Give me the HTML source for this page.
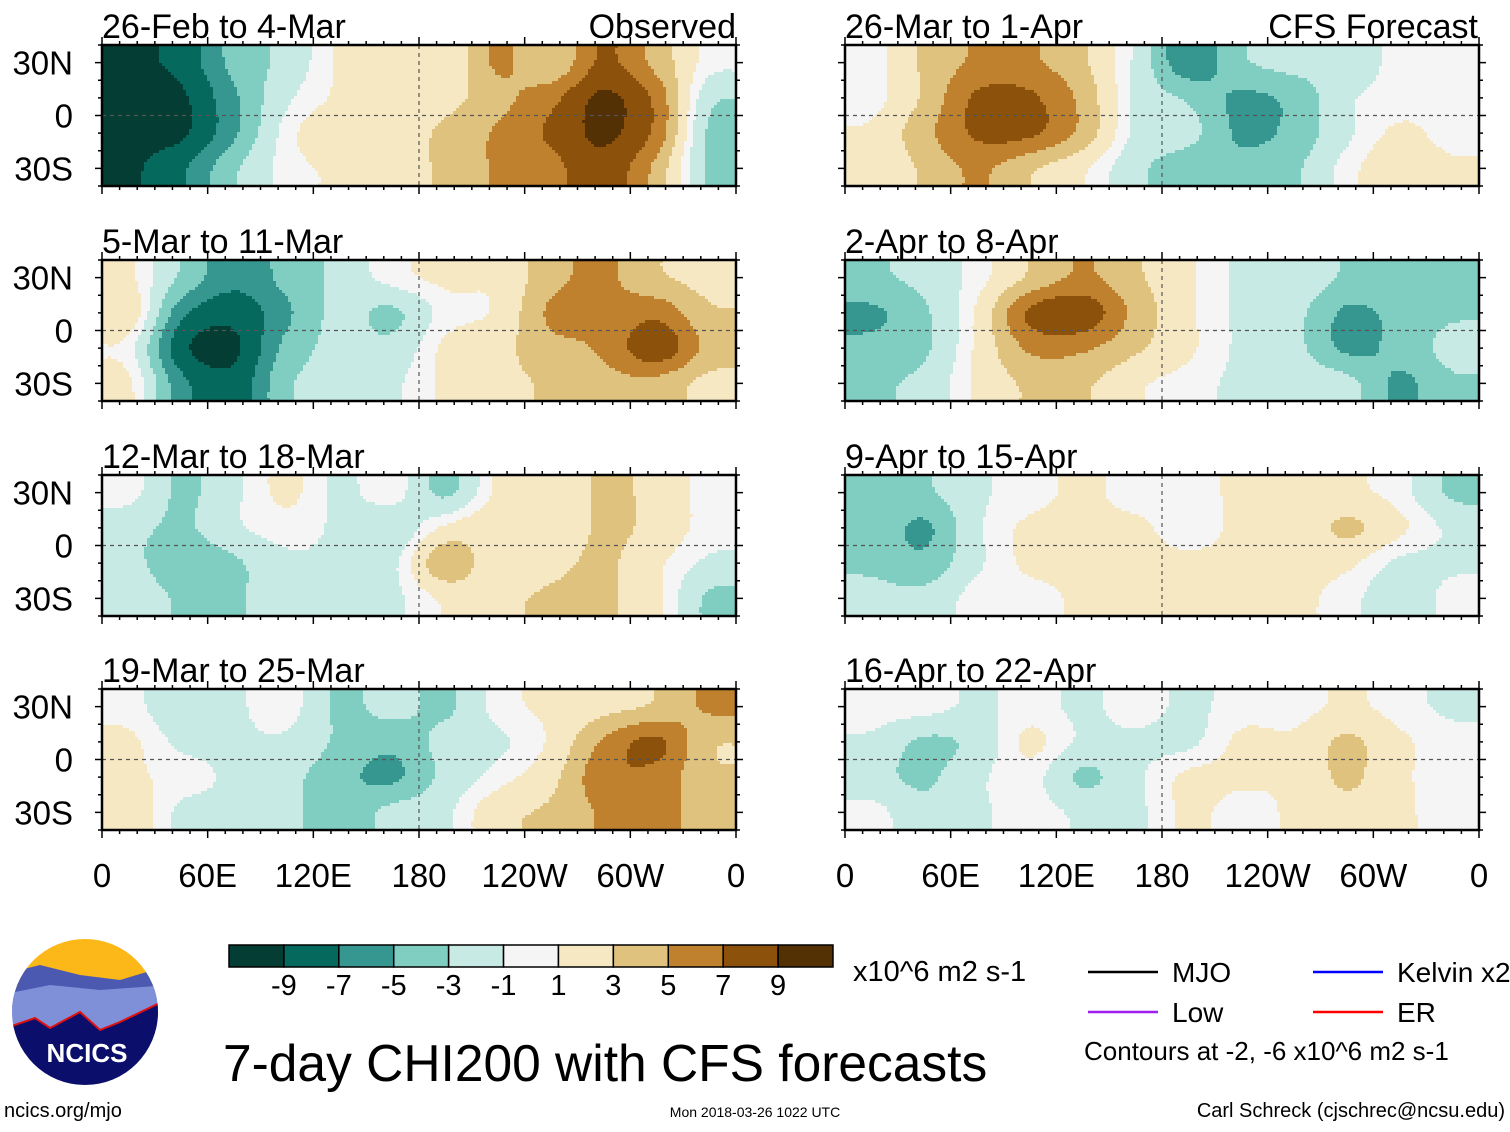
<!DOCTYPE html>
<html><head><meta charset="utf-8">
<style>
html,body{margin:0;padding:0;background:#fff;}
body{width:1510px;height:1127px;overflow:hidden;font-family:"Liberation Sans",sans-serif;}
svg text{font-family:"Liberation Sans",sans-serif;}
</style></head>
<body>
<svg id="chart" width="1510" height="1127" viewBox="0 0 1510 1127" xmlns="http://www.w3.org/2000/svg">
<defs></defs>
</svg>
<script>
const panelTitles = ["26-Feb to 4-Mar","5-Mar to 11-Mar","12-Mar to 18-Mar","19-Mar to 25-Mar","26-Mar to 1-Apr","2-Apr to 8-Apr","9-Apr to 15-Apr","16-Apr to 22-Apr"];
const lonTickLabels = ["0","60E","120E","180","120W","60W","0"];
const latTickLabels = ["30N","0","30S"];
const latTickValues = [30,0,-30];
const colorBarLabels = ["-9","-7","-5","-3","-1","1","3","5","7","9"];
const levels = [-9,-7,-5,-3,-1,1,3,5,7,9];
const palette = ["#033d33","#05695e","#369690","#80cdc1","#c7eae5","#f5f5f5","#f6e8c3","#dfc27d","#bf812d","#8c510a","#543005"];
// fields: 4 latitude rows (40N-20N, 20N-0, 0-20S, 20S-40S) x 12 lon bins of 30 deg
const field1 = [[-9,-8,-4,-2,1,2,1,5,3,7,4,0],[-9,-9,-5,-1,1,2,2,4,6,9,6,-2],[-9,-9,-5,0,2,2,3,5,7,9,6,-3],[-9,-7,-3,0,1,2,3,5,6,8,4,-3]];
const field2 = [[1,-3,-6,-4,-2,0,1,1,4,5,3,2],[2,-6,-8,-5,-2,-3,0,1,5,5,6,3],[0,-8,-9,-4,-2,-2,1,2,4,5,8,4],[1,-6,-8,-3,-2,-1,1,2,3,4,4,2]];
const field3 = [[0,-3,-1,1,-1,0,-3,1,1,3,2,0],[-2,-3,-1,0,-1,-2,1,2,1,3,2,0],[-2,-4,-3,-1,-1,-1,4,1,2,3,1,-1],[-1,-3,-3,-1,-1,-1,1,2,3,3,1,-3]];
const field4 = [[0,-2,-1,0,-3,-2,-3,0,1,2,3,5],[1,-1,-1,-1,-3,-4,-2,-1,1,5,7,3],[1,0,-1,-2,-4,-5,-2,0,2,6,6,3],[2,-1,-1,-2,-4,-2,-1,2,3,5,6,3]];
const field5 = [[0,3,5,5,3,-1,-6,-3,-2,-2,0,0],[0,3,7,7,4,-1,-3,-5,-4,-1,0,0],[1,4,7,7,4,-1,-2,-5,-4,-1,1,0],[1,3,5,3,1,-2,-4,-4,-3,0,2,1]];
const field6 = [[-3,-2,0,3,5,3,1,-1,-1,-3,-3,-4],[-5,-3,1,7,8,4,1,-1,-2,-5,-4,-3],[-4,-3,1,5,5,3,1,-1,-2,-5,-4,-2],[-3,-2,1,3,3,1,0,-1,-1,-2,-5,-3]];
const field7 = [[-3,-3,-1,0,1,0,0,1,1,1,0,-3],[-3,-5,-1,1,1,1,0,1,1,3,1,-1],[-3,-4,-1,1,1,1,1,1,1,1,-1,-1],[-2,-2,0,0,1,1,1,1,1,0,-2,0]];
const field8 = [[0,0,-1,0,-1,0,-1,0,0,1,0,-1],[-1,-3,-2,1,-1,-1,-1,1,1,3,1,0],[-2,-3,-1,0,-3,-1,1,1,1,3,1,0],[0,-2,-1,0,-1,-1,1,0,1,2,1,0]];
const fields = [field1,field2,field3,field4,field5,field6,field7,field8];

const NS="http://www.w3.org/2000/svg";
const svg=document.getElementById('chart');
function mk(tag,attrs,parent){const e=document.createElementNS(NS,tag);for(const k in attrs)e.setAttribute(k,attrs[k]);(parent||svg).appendChild(e);return e;}
function bandIndex(v){v=v+(v>=0?0.35:-0.35);let i=0;while(i<levels.length&&v>=levels[i])i++;return i;}
const colX=[102,845], W=634;
const rowY=[45,260,475,689], H=141;
function lonX(x0,lon){return x0+lon/360*W;}
function latY(y0,lat){return y0+(40-lat)/80*H;}
function cr(p0,p1,p2,p3,t){return 0.5*((2*p1)+(-p0+p2)*t+(2*p0-5*p1+4*p2-p3)*t*t+(-p0+3*p1-3*p2+p3)*t*t*t);}
function sample(f,gx,gy){
  const nR=f.length,nC=f[0].length;
  const get=(r,c)=>f[Math.max(0,Math.min(nR-1,r))][Math.max(0,Math.min(nC-1,c))];
  const c0=Math.floor(gx), r0=Math.floor(gy), tx=gx-c0, ty=gy-r0;
  const rows=[];
  for(let k=-1;k<=2;k++){rows.push(cr(get(r0+k,c0-1),get(r0+k,c0),get(r0+k,c0+1),get(r0+k,c0+2),tx));}
  return cr(rows[0],rows[1],rows[2],rows[3],ty);
}
const STEP=3;
fields.forEach((f,p)=>{
  const col=p<4?0:1, row=p%4, x0=colX[col], y0=rowY[row];
  const g=mk('g',{});
  
  
  const nC=f[0].length,nR=f.length;
  const fg=mk('g',{'shape-rendering':'crispEdges'},g);
  for(let py=0;py<H;py+=STEP){
    const lat=40-(py+STEP/2)/H*80;
    const gy=(40-lat)/(80/nR)-0.5;
    let runStart=0, runBand=-1;
    for(let px=0;;px+=STEP){
      const done=px>=W;
      let b=-2;
      if(!done){const lon=(px+STEP/2)/W*360;const gx=lon/(360/nC)-0.5;b=bandIndex(sample(f,gx,gy));}
      if(b!==runBand){
        if(runBand>=0){
          const w=Math.min(px,W)-runStart;
          const cell=mk('rect',{x:x0+runStart,y:y0+py,width:w,height:Math.min(STEP,H-py),fill:palette[runBand]},fg);
          
          
        }
        runBand=b;runStart=px;
      }
      if(done)break;
    }
  }
  mk('line',{x1:x0,x2:x0+W,y1:latY(y0,0),y2:latY(y0,0),stroke:'#555','stroke-width':1.2,'stroke-dasharray':'4,4'},g);
  mk('line',{x1:lonX(x0,180),x2:lonX(x0,180),y1:y0,y2:y0+H,stroke:'#555','stroke-width':1.2,'stroke-dasharray':'4,4'},g);
  const fr=mk('rect',{x:x0,y:y0,width:W,height:H,fill:'none',stroke:'#000','stroke-width':2.5},g);
  
  
  for(let lon=0;lon<=360;lon+=10){
    const x=lonX(x0,lon), big=lon%60===0?8:4;
    mk('line',{x1:x,x2:x,y1:y0,y2:y0-big,stroke:'#000','stroke-width':1.5},g);
    mk('line',{x1:x,x2:x,y1:y0+H,y2:y0+H+big,stroke:'#000','stroke-width':1.5},g);
  }
  for(let lat=-40;lat<=40;lat+=10){
    const y=latY(y0,lat), big=lat%30===0?7:4;
    mk('line',{x1:x0,x2:x0-big,y1:y,y2:y,stroke:'#000','stroke-width':1.5},g);
    mk('line',{x1:x0+W,x2:x0+W+big,y1:y,y2:y,stroke:'#000','stroke-width':1.5},g);
  }
  const t=mk('text',{x:x0,y:y0-7,'font-size':34},g);t.textContent=panelTitles[p];
  
  
  if(col===0){
    latTickLabels.forEach((lb,i)=>{const tt=mk('text',{x:73,y:latY(y0,latTickValues[i])+12,'font-size':33,'text-anchor':'end'},g);tt.textContent=lb;
      
      });
  }
  if(row===3){
    lonTickLabels.forEach((lb,i)=>{const tt=mk('text',{x:lonX(x0,i*60),y:887,'font-size':33,'text-anchor':'middle'},g);tt.textContent=lb;
      
      });
  }
});
function txt(s,x,y,fs,anchor,name){const t=mk('text',{x:x,y:y,'font-size':fs,'text-anchor':anchor||'start'});t.textContent=s;return t;}
txt('Observed',736,38,34,'end','observed-label');
txt('CFS Forecast',1478,38,34,'end','forecast-label');
const cb=mk('g',{});
const cbx=229,cbw=604/11;
palette.forEach((c,i)=>{const r=mk('rect',{x:cbx+i*cbw,y:945,width:cbw,height:22,fill:c,stroke:'#000','stroke-width':1.5},cb);});
colorBarLabels.forEach((l,i)=>{const t=mk('text',{x:cbx+(i+1)*cbw,y:995,'font-size':29,'text-anchor':'middle'},cb);t.textContent=l;});
txt('x10^6 m2 s-1',853,981,29,'start','units-label');
txt('7-day CHI200 with CFS forecasts',223,1081,51.5,'start','main-title');
const lg=[['MJO','#000',1088,972],['Kelvin x2','#0000ff',1313,972],['Low','#a020f0',1088,1012],['ER','#ff0000',1313,1012]];
lg.forEach(l=>{const ln=mk('line',{x1:l[2],x2:l[2]+70,y1:l[3],y2:l[3],stroke:l[1],'stroke-width':2.5});txt(l[0],l[2]+84,l[3]+10,28,'start','legend-entry');});
txt('Contours at -2, -6 x10^6 m2 s-1',1084,1060,26,'start','contour-note');
txt('ncics.org/mjo',4,1117,20,'start','site-url');
txt('Mon 2018-03-26 1022 UTC',755,1117,14,'middle','timestamp');
txt('Carl Schreck (cjschrec@ncsu.edu)',1505,1117,20,'end','author-credit');
const lgo=mk('g',{});
const lc=mk('clipPath',{id:'logoclip'},svg.querySelector('defs'));mk('circle',{cx:85,cy:1012,r:73},lc);
const li=mk('g',{'clip-path':'url(#logoclip)'},lgo);
mk('rect',{x:0,y:930,width:170,height:60,fill:'#fbb818'},li);
mk('path',{d:'M0 975 L40 965 L80 975 L120 980 L170 965 L170 1010 L0 1010Z',fill:'#4b59b0'},li);
mk('path',{d:'M0 995 L50 985 L100 990 L170 985 L170 1030 L0 1030Z',fill:'#8090d8'},li);
mk('path',{d:'M0 1030 L35 1018 L50 1028 L80 1012 L100 1030 L120 1022 L170 998 L170 1090 L0 1090Z',fill:'#0b0f6b',stroke:'#e01010','stroke-width':2},li);
const lt=mk('text',{x:87,y:1062,'font-size':26,'font-weight':'bold','text-anchor':'middle',fill:'#fff'},lgo);lt.textContent='NCICS';

</script>
</body></html>
